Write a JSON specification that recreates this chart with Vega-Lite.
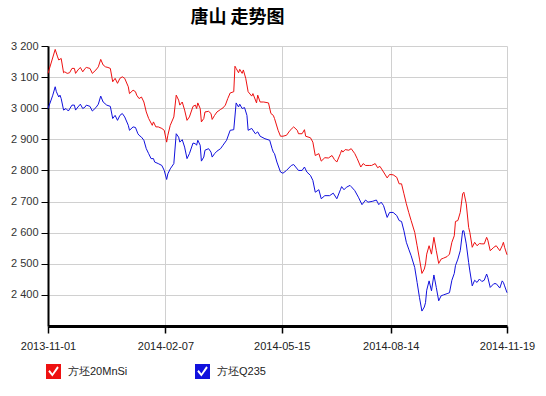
{
"$schema": "https://vega.github.io/schema/vega-lite/v6.json",
"width": 459, "height": 280,
"autosize": "none",
"padding": {"left": 48, "top": 46, "right": 39, "bottom": 70},
"background": "white",
"config": {"view": {"stroke": null}, "font": "Liberation Sans"},
"title": {"text": "唐山 走势图", "font": "Noto Sans CJK SC", "fontSize": 18, "fontWeight": "bold", "color": "#000000", "anchor": "middle", "dx": -40, "offset": 13},
"data": {"values": [
{"d":"2013-11-01","s":"方坯20MnSi","v":3112},{"d":"2013-11-07","s":"方坯20MnSi","v":3189},{"d":"2013-11-09","s":"方坯20MnSi","v":3165},{"d":"2013-11-10","s":"方坯20MnSi","v":3155},{"d":"2013-11-12","s":"方坯20MnSi","v":3160},{"d":"2013-11-14","s":"方坯20MnSi","v":3114},{"d":"2013-11-15","s":"方坯20MnSi","v":3117},{"d":"2013-11-17","s":"方坯20MnSi","v":3112},{"d":"2013-11-19","s":"方坯20MnSi","v":3114},{"d":"2013-11-21","s":"方坯20MnSi","v":3128},{"d":"2013-11-23","s":"方坯20MnSi","v":3128},{"d":"2013-11-24","s":"方坯20MnSi","v":3112},{"d":"2013-11-26","s":"方坯20MnSi","v":3123},{"d":"2013-11-28","s":"方坯20MnSi","v":3131},{"d":"2013-11-30","s":"方坯20MnSi","v":3117},{"d":"2013-12-02","s":"方坯20MnSi","v":3128},{"d":"2013-12-03","s":"方坯20MnSi","v":3131},{"d":"2013-12-06","s":"方坯20MnSi","v":3128},{"d":"2013-12-08","s":"方坯20MnSi","v":3112},{"d":"2013-12-11","s":"方坯20MnSi","v":3123},{"d":"2013-12-13","s":"方坯20MnSi","v":3133},{"d":"2013-12-15","s":"方坯20MnSi","v":3157},{"d":"2013-12-17","s":"方坯20MnSi","v":3139},{"d":"2013-12-19","s":"方坯20MnSi","v":3133},{"d":"2013-12-21","s":"方坯20MnSi","v":3131},{"d":"2013-12-23","s":"方坯20MnSi","v":3128},{"d":"2013-12-25","s":"方坯20MnSi","v":3085},{"d":"2013-12-27","s":"方坯20MnSi","v":3096},{"d":"2013-12-29","s":"方坯20MnSi","v":3080},{"d":"2013-12-31","s":"方坯20MnSi","v":3096},
{"d":"2014-01-02","s":"方坯20MnSi","v":3101},{"d":"2014-01-04","s":"方坯20MnSi","v":3096},{"d":"2014-01-07","s":"方坯20MnSi","v":3069},{"d":"2014-01-08","s":"方坯20MnSi","v":3047},{"d":"2014-01-11","s":"方坯20MnSi","v":3058},{"d":"2014-01-13","s":"方坯20MnSi","v":3053},{"d":"2014-01-14","s":"方坯20MnSi","v":3042},{"d":"2014-01-16","s":"方坯20MnSi","v":3031},{"d":"2014-01-18","s":"方坯20MnSi","v":3036},{"d":"2014-01-20","s":"方坯20MnSi","v":3020},{"d":"2014-01-22","s":"方坯20MnSi","v":2988},{"d":"2014-01-24","s":"方坯20MnSi","v":2967},{"d":"2014-01-27","s":"方坯20MnSi","v":2945},{"d":"2014-01-28","s":"方坯20MnSi","v":2956},{"d":"2014-01-30","s":"方坯20MnSi","v":2940},{"d":"2014-02-01","s":"方坯20MnSi","v":2940},{"d":"2014-02-04","s":"方坯20MnSi","v":2935},{"d":"2014-02-06","s":"方坯20MnSi","v":2929},{"d":"2014-02-08","s":"方坯20MnSi","v":2891},{"d":"2014-02-09","s":"方坯20MnSi","v":2913},{"d":"2014-02-11","s":"方坯20MnSi","v":2945},{"d":"2014-02-14","s":"方坯20MnSi","v":2972},{"d":"2014-02-16","s":"方坯20MnSi","v":3042},{"d":"2014-02-18","s":"方坯20MnSi","v":3026},{"d":"2014-02-19","s":"方坯20MnSi","v":3010},{"d":"2014-02-21","s":"方坯20MnSi","v":3020},{"d":"2014-02-23","s":"方坯20MnSi","v":2994},{"d":"2014-02-25","s":"方坯20MnSi","v":2961},{"d":"2014-02-27","s":"方坯20MnSi","v":2972},
{"d":"2014-03-02","s":"方坯20MnSi","v":3006},{"d":"2014-03-04","s":"方坯20MnSi","v":3010},{"d":"2014-03-05","s":"方坯20MnSi","v":2999},{"d":"2014-03-06","s":"方坯20MnSi","v":3017},{"d":"2014-03-08","s":"方坯20MnSi","v":2999},{"d":"2014-03-09","s":"方坯20MnSi","v":2956},{"d":"2014-03-11","s":"方坯20MnSi","v":2967},{"d":"2014-03-12","s":"方坯20MnSi","v":2988},{"d":"2014-03-15","s":"方坯20MnSi","v":2990},{"d":"2014-03-17","s":"方坯20MnSi","v":2983},{"d":"2014-03-18","s":"方坯20MnSi","v":2964},{"d":"2014-03-20","s":"方坯20MnSi","v":2977},{"d":"2014-03-22","s":"方坯20MnSi","v":2988},{"d":"2014-03-25","s":"方坯20MnSi","v":2996},{"d":"2014-03-27","s":"方坯20MnSi","v":3001},{"d":"2014-03-29","s":"方坯20MnSi","v":3010},{"d":"2014-03-31","s":"方坯20MnSi","v":3031},{"d":"2014-04-02","s":"方坯20MnSi","v":3049},{"d":"2014-04-05","s":"方坯20MnSi","v":3053},{"d":"2014-04-06","s":"方坯20MnSi","v":3135},{"d":"2014-04-07","s":"方坯20MnSi","v":3128},{"d":"2014-04-09","s":"方坯20MnSi","v":3114},{"d":"2014-04-10","s":"方坯20MnSi","v":3125},{"d":"2014-04-12","s":"方坯20MnSi","v":3112},{"d":"2014-04-13","s":"方坯20MnSi","v":3123},{"d":"2014-04-15","s":"方坯20MnSi","v":3096},{"d":"2014-04-17","s":"方坯20MnSi","v":3053},{"d":"2014-04-20","s":"方坯20MnSi","v":3039},{"d":"2014-04-21","s":"方坯20MnSi","v":3047},{"d":"2014-04-24","s":"方坯20MnSi","v":3017},{"d":"2014-04-25","s":"方坯20MnSi","v":3042},{"d":"2014-04-27","s":"方坯20MnSi","v":3020},{"d":"2014-04-30","s":"方坯20MnSi","v":3020},
{"d":"2014-05-04","s":"方坯20MnSi","v":3017},{"d":"2014-05-06","s":"方坯20MnSi","v":2983},{"d":"2014-05-08","s":"方坯20MnSi","v":2977},{"d":"2014-05-09","s":"方坯20MnSi","v":2967},{"d":"2014-05-12","s":"方坯20MnSi","v":2929},{"d":"2014-05-14","s":"方坯20MnSi","v":2910},{"d":"2014-05-16","s":"方坯20MnSi","v":2910},{"d":"2014-05-19","s":"方坯20MnSi","v":2913},{"d":"2014-05-22","s":"方坯20MnSi","v":2929},{"d":"2014-05-25","s":"方坯20MnSi","v":2940},{"d":"2014-05-28","s":"方坯20MnSi","v":2929},{"d":"2014-05-29","s":"方坯20MnSi","v":2918},{"d":"2014-06-01","s":"方坯20MnSi","v":2918},{"d":"2014-06-03","s":"方坯20MnSi","v":2931},{"d":"2014-06-04","s":"方坯20MnSi","v":2910},{"d":"2014-06-08","s":"方坯20MnSi","v":2905},{"d":"2014-06-10","s":"方坯20MnSi","v":2891},{"d":"2014-06-12","s":"方坯20MnSi","v":2848},{"d":"2014-06-15","s":"方坯20MnSi","v":2854},{"d":"2014-06-17","s":"方坯20MnSi","v":2830},{"d":"2014-06-20","s":"方坯20MnSi","v":2841},{"d":"2014-06-23","s":"方坯20MnSi","v":2840},{"d":"2014-06-26","s":"方坯20MnSi","v":2848},{"d":"2014-06-28","s":"方坯20MnSi","v":2835},{"d":"2014-06-30","s":"方坯20MnSi","v":2827},
{"d":"2014-07-03","s":"方坯20MnSi","v":2854},{"d":"2014-07-04","s":"方坯20MnSi","v":2865},{"d":"2014-07-05","s":"方坯20MnSi","v":2859},{"d":"2014-07-07","s":"方坯20MnSi","v":2867},{"d":"2014-07-10","s":"方坯20MnSi","v":2865},{"d":"2014-07-12","s":"方坯20MnSi","v":2870},{"d":"2014-07-15","s":"方坯20MnSi","v":2854},{"d":"2014-07-17","s":"方坯20MnSi","v":2838},{"d":"2014-07-20","s":"方坯20MnSi","v":2811},{"d":"2014-07-22","s":"方坯20MnSi","v":2822},{"d":"2014-07-24","s":"方坯20MnSi","v":2816},{"d":"2014-07-27","s":"方坯20MnSi","v":2816},{"d":"2014-07-29","s":"方坯20MnSi","v":2816},{"d":"2014-08-01","s":"方坯20MnSi","v":2822},{"d":"2014-08-03","s":"方坯20MnSi","v":2809},{"d":"2014-08-05","s":"方坯20MnSi","v":2813},{"d":"2014-08-08","s":"方坯20MnSi","v":2795},{"d":"2014-08-11","s":"方坯20MnSi","v":2776},{"d":"2014-08-13","s":"方坯20MnSi","v":2787},{"d":"2014-08-16","s":"方坯20MnSi","v":2786},{"d":"2014-08-19","s":"方坯20MnSi","v":2778},{"d":"2014-08-21","s":"方坯20MnSi","v":2757},{"d":"2014-08-23","s":"方坯20MnSi","v":2757},{"d":"2014-08-25","s":"方坯20MnSi","v":2725},{"d":"2014-08-27","s":"方坯20MnSi","v":2693},{"d":"2014-08-29","s":"方坯20MnSi","v":2665},{"d":"2014-08-31","s":"方坯20MnSi","v":2639},
{"d":"2014-09-03","s":"方坯20MnSi","v":2601},{"d":"2014-09-05","s":"方坯20MnSi","v":2558},{"d":"2014-09-07","s":"方坯20MnSi","v":2515},{"d":"2014-09-09","s":"方坯20MnSi","v":2469},{"d":"2014-09-11","s":"方坯20MnSi","v":2483},{"d":"2014-09-12","s":"方坯20MnSi","v":2499},{"d":"2014-09-13","s":"方坯20MnSi","v":2531},{"d":"2014-09-15","s":"方坯20MnSi","v":2558},{"d":"2014-09-17","s":"方坯20MnSi","v":2531},{"d":"2014-09-19","s":"方坯20MnSi","v":2585},{"d":"2014-09-21","s":"方坯20MnSi","v":2542},{"d":"2014-09-23","s":"方坯20MnSi","v":2501},{"d":"2014-09-25","s":"方坯20MnSi","v":2515},{"d":"2014-09-27","s":"方坯20MnSi","v":2518},{"d":"2014-09-30","s":"方坯20MnSi","v":2523},{"d":"2014-10-02","s":"方坯20MnSi","v":2531},{"d":"2014-10-04","s":"方坯20MnSi","v":2569},{"d":"2014-10-06","s":"方坯20MnSi","v":2590},{"d":"2014-10-07","s":"方坯20MnSi","v":2636},{"d":"2014-10-09","s":"方坯20MnSi","v":2639},{"d":"2014-10-11","s":"方坯20MnSi","v":2665},{"d":"2014-10-13","s":"方坯20MnSi","v":2725},{"d":"2014-10-14","s":"方坯20MnSi","v":2730},{"d":"2014-10-16","s":"方坯20MnSi","v":2693},{"d":"2014-10-18","s":"方坯20MnSi","v":2617},{"d":"2014-10-19","s":"方坯20MnSi","v":2601},{"d":"2014-10-21","s":"方坯20MnSi","v":2553},{"d":"2014-10-23","s":"方坯20MnSi","v":2569},{"d":"2014-10-25","s":"方坯20MnSi","v":2558},{"d":"2014-10-27","s":"方坯20MnSi","v":2565},{"d":"2014-10-29","s":"方坯20MnSi","v":2564},{"d":"2014-10-31","s":"方坯20MnSi","v":2564},{"d":"2014-11-02","s":"方坯20MnSi","v":2585},{"d":"2014-11-03","s":"方坯20MnSi","v":2576},{"d":"2014-11-05","s":"方坯20MnSi","v":2542},{"d":"2014-11-08","s":"方坯20MnSi","v":2553},{"d":"2014-11-10","s":"方坯20MnSi","v":2558},{"d":"2014-11-13","s":"方坯20MnSi","v":2542},{"d":"2014-11-15","s":"方坯20MnSi","v":2558},{"d":"2014-11-16","s":"方坯20MnSi","v":2569},{"d":"2014-11-17","s":"方坯20MnSi","v":2553},{"d":"2014-11-19","s":"方坯20MnSi","v":2529},
{"d":"2013-11-01","s":"方坯Q235","v":2999},{"d":"2013-11-03","s":"方坯Q235","v":3020},{"d":"2013-11-05","s":"方坯Q235","v":3042},{"d":"2013-11-07","s":"方坯Q235","v":3069},{"d":"2013-11-08","s":"方坯Q235","v":3053},{"d":"2013-11-10","s":"方坯Q235","v":3036},{"d":"2013-11-11","s":"方坯Q235","v":3042},{"d":"2013-11-12","s":"方坯Q235","v":3031},{"d":"2013-11-14","s":"方坯Q235","v":2994},{"d":"2013-11-16","s":"方坯Q235","v":2999},{"d":"2013-11-18","s":"方坯Q235","v":2991},{"d":"2013-11-21","s":"方坯Q235","v":3010},{"d":"2013-11-23","s":"方坯Q235","v":3010},{"d":"2013-11-24","s":"方坯Q235","v":2994},{"d":"2013-11-26","s":"方坯Q235","v":3004},{"d":"2013-11-28","s":"方坯Q235","v":3013},{"d":"2013-11-30","s":"方坯Q235","v":2999},{"d":"2013-12-02","s":"方坯Q235","v":3004},{"d":"2013-12-03","s":"方坯Q235","v":3010},{"d":"2013-12-06","s":"方坯Q235","v":3006},{"d":"2013-12-08","s":"方坯Q235","v":2991},{"d":"2013-12-11","s":"方坯Q235","v":3002},{"d":"2013-12-13","s":"方坯Q235","v":3013},{"d":"2013-12-15","s":"方坯Q235","v":3039},{"d":"2013-12-17","s":"方坯Q235","v":3020},{"d":"2013-12-20","s":"方坯Q235","v":3010},{"d":"2013-12-23","s":"方坯Q235","v":3006},{"d":"2013-12-25","s":"方坯Q235","v":2967},{"d":"2013-12-27","s":"方坯Q235","v":2977},{"d":"2013-12-29","s":"方坯Q235","v":2961},{"d":"2013-12-31","s":"方坯Q235","v":2977},
{"d":"2014-01-02","s":"方坯Q235","v":2983},{"d":"2014-01-04","s":"方坯Q235","v":2972},{"d":"2014-01-07","s":"方坯Q235","v":2945},{"d":"2014-01-08","s":"方坯Q235","v":2929},{"d":"2014-01-11","s":"方坯Q235","v":2940},{"d":"2014-01-13","s":"方坯Q235","v":2938},{"d":"2014-01-15","s":"方坯Q235","v":2918},{"d":"2014-01-16","s":"方坯Q235","v":2913},{"d":"2014-01-18","s":"方坯Q235","v":2907},{"d":"2014-01-20","s":"方坯Q235","v":2897},{"d":"2014-01-22","s":"方坯Q235","v":2870},{"d":"2014-01-24","s":"方坯Q235","v":2854},{"d":"2014-01-26","s":"方坯Q235","v":2838},{"d":"2014-01-28","s":"方坯Q235","v":2838},{"d":"2014-01-29","s":"方坯Q235","v":2827},{"d":"2014-02-01","s":"方坯Q235","v":2822},{"d":"2014-02-04","s":"方坯Q235","v":2816},{"d":"2014-02-06","s":"方坯Q235","v":2800},{"d":"2014-02-08","s":"方坯Q235","v":2771},{"d":"2014-02-09","s":"方坯Q235","v":2789},{"d":"2014-02-11","s":"方坯Q235","v":2805},{"d":"2014-02-14","s":"方坯Q235","v":2822},{"d":"2014-02-16","s":"方坯Q235","v":2918},{"d":"2014-02-18","s":"方坯Q235","v":2907},{"d":"2014-02-19","s":"方坯Q235","v":2891},{"d":"2014-02-21","s":"方坯Q235","v":2899},{"d":"2014-02-23","s":"方坯Q235","v":2875},{"d":"2014-02-25","s":"方坯Q235","v":2838},{"d":"2014-02-27","s":"方坯Q235","v":2854},
{"d":"2014-03-02","s":"方坯Q235","v":2888},{"d":"2014-03-04","s":"方坯Q235","v":2886},{"d":"2014-03-05","s":"方坯Q235","v":2881},{"d":"2014-03-06","s":"方坯Q235","v":2897},{"d":"2014-03-08","s":"方坯Q235","v":2881},{"d":"2014-03-09","s":"方坯Q235","v":2830},{"d":"2014-03-11","s":"方坯Q235","v":2843},{"d":"2014-03-12","s":"方坯Q235","v":2865},{"d":"2014-03-15","s":"方坯Q235","v":2870},{"d":"2014-03-17","s":"方坯Q235","v":2859},{"d":"2014-03-18","s":"方坯Q235","v":2843},{"d":"2014-03-20","s":"方坯Q235","v":2854},{"d":"2014-03-22","s":"方坯Q235","v":2862},{"d":"2014-03-25","s":"方坯Q235","v":2870},{"d":"2014-03-27","s":"方坯Q235","v":2881},{"d":"2014-03-30","s":"方坯Q235","v":2897},{"d":"2014-04-02","s":"方坯Q235","v":2929},{"d":"2014-04-05","s":"方坯Q235","v":2931},{"d":"2014-04-07","s":"方坯Q235","v":3017},{"d":"2014-04-09","s":"方坯Q235","v":3004},{"d":"2014-04-10","s":"方坯Q235","v":3013},{"d":"2014-04-12","s":"方坯Q235","v":2999},{"d":"2014-04-14","s":"方坯Q235","v":3002},{"d":"2014-04-16","s":"方坯Q235","v":2977},{"d":"2014-04-17","s":"方坯Q235","v":2929},{"d":"2014-04-20","s":"方坯Q235","v":2935},{"d":"2014-04-23","s":"方坯Q235","v":2918},{"d":"2014-04-25","s":"方坯Q235","v":2924},{"d":"2014-04-27","s":"方坯Q235","v":2910},
{"d":"2014-05-01","s":"方坯Q235","v":2902},{"d":"2014-05-05","s":"方坯Q235","v":2897},{"d":"2014-05-07","s":"方坯Q235","v":2870},{"d":"2014-05-08","s":"方坯Q235","v":2859},{"d":"2014-05-09","s":"方坯Q235","v":2854},{"d":"2014-05-11","s":"方坯Q235","v":2827},{"d":"2014-05-14","s":"方坯Q235","v":2795},{"d":"2014-05-16","s":"方坯Q235","v":2791},{"d":"2014-05-19","s":"方坯Q235","v":2800},{"d":"2014-05-23","s":"方坯Q235","v":2816},{"d":"2014-05-25","s":"方坯Q235","v":2819},{"d":"2014-05-29","s":"方坯Q235","v":2800},{"d":"2014-06-01","s":"方坯Q235","v":2800},{"d":"2014-06-03","s":"方坯Q235","v":2811},{"d":"2014-06-05","s":"方坯Q235","v":2795},{"d":"2014-06-08","s":"方坯Q235","v":2784},{"d":"2014-06-10","s":"方坯Q235","v":2768},{"d":"2014-06-12","s":"方坯Q235","v":2730},{"d":"2014-06-15","s":"方坯Q235","v":2738},{"d":"2014-06-17","s":"方坯Q235","v":2709},{"d":"2014-06-20","s":"方坯Q235","v":2719},{"d":"2014-06-24","s":"方坯Q235","v":2719},{"d":"2014-06-27","s":"方坯Q235","v":2727},{"d":"2014-06-30","s":"方坯Q235","v":2709},
{"d":"2014-07-03","s":"方坯Q235","v":2738},{"d":"2014-07-04","s":"方坯Q235","v":2748},{"d":"2014-07-06","s":"方坯Q235","v":2738},{"d":"2014-07-08","s":"方坯Q235","v":2746},{"d":"2014-07-11","s":"方坯Q235","v":2752},{"d":"2014-07-12","s":"方坯Q235","v":2748},{"d":"2014-07-15","s":"方坯Q235","v":2735},{"d":"2014-07-18","s":"方坯Q235","v":2714},{"d":"2014-07-21","s":"方坯Q235","v":2690},{"d":"2014-07-24","s":"方坯Q235","v":2705},{"d":"2014-07-26","s":"方坯Q235","v":2698},{"d":"2014-07-30","s":"方坯Q235","v":2701},{"d":"2014-08-02","s":"方坯Q235","v":2705},{"d":"2014-08-04","s":"方坯Q235","v":2690},{"d":"2014-08-06","s":"方坯Q235","v":2698},{"d":"2014-08-08","s":"方坯Q235","v":2687},{"d":"2014-08-11","s":"方坯Q235","v":2649},{"d":"2014-08-13","s":"方坯Q235","v":2665},{"d":"2014-08-16","s":"方坯Q235","v":2665},{"d":"2014-08-19","s":"方坯Q235","v":2655},{"d":"2014-08-21","s":"方坯Q235","v":2639},{"d":"2014-08-23","s":"方坯Q235","v":2636},{"d":"2014-08-25","s":"方坯Q235","v":2606},{"d":"2014-08-27","s":"方坯Q235","v":2569},{"d":"2014-08-29","s":"方坯Q235","v":2547},{"d":"2014-08-31","s":"方坯Q235","v":2526},
{"d":"2014-09-03","s":"方坯Q235","v":2488},{"d":"2014-09-05","s":"方坯Q235","v":2440},{"d":"2014-09-07","s":"方坯Q235","v":2391},{"d":"2014-09-09","s":"方坯Q235","v":2348},{"d":"2014-09-11","s":"方坯Q235","v":2361},{"d":"2014-09-12","s":"方坯Q235","v":2375},{"d":"2014-09-13","s":"方坯Q235","v":2415},{"d":"2014-09-15","s":"方坯Q235","v":2445},{"d":"2014-09-17","s":"方坯Q235","v":2413},{"d":"2014-09-19","s":"方坯Q235","v":2464},{"d":"2014-09-21","s":"方坯Q235","v":2424},{"d":"2014-09-23","s":"方坯Q235","v":2381},{"d":"2014-09-25","s":"方坯Q235","v":2397},{"d":"2014-09-27","s":"方坯Q235","v":2400},{"d":"2014-09-30","s":"方坯Q235","v":2404},{"d":"2014-10-02","s":"方坯Q235","v":2407},{"d":"2014-10-04","s":"方坯Q235","v":2447},{"d":"2014-10-06","s":"方坯Q235","v":2469},{"d":"2014-10-07","s":"方坯Q235","v":2494},{"d":"2014-10-09","s":"方坯Q235","v":2515},{"d":"2014-10-11","s":"方坯Q235","v":2542},{"d":"2014-10-13","s":"方坯Q235","v":2606},{"d":"2014-10-14","s":"方坯Q235","v":2606},{"d":"2014-10-16","s":"方坯Q235","v":2564},{"d":"2014-10-18","s":"方坯Q235","v":2504},{"d":"2014-10-19","s":"方坯Q235","v":2477},{"d":"2014-10-21","s":"方坯Q235","v":2429},{"d":"2014-10-23","s":"方坯Q235","v":2447},{"d":"2014-10-25","s":"方坯Q235","v":2440},{"d":"2014-10-27","s":"方坯Q235","v":2451},{"d":"2014-10-29","s":"方坯Q235","v":2443},{"d":"2014-10-31","s":"方坯Q235","v":2447},{"d":"2014-11-02","s":"方坯Q235","v":2467},{"d":"2014-11-03","s":"方坯Q235","v":2456},{"d":"2014-11-05","s":"方坯Q235","v":2424},{"d":"2014-11-08","s":"方坯Q235","v":2436},{"d":"2014-11-10","s":"方坯Q235","v":2436},{"d":"2014-11-13","s":"方坯Q235","v":2422},{"d":"2014-11-15","s":"方坯Q235","v":2445},{"d":"2014-11-16","s":"方坯Q235","v":2440},{"d":"2014-11-17","s":"方坯Q235","v":2429},{"d":"2014-11-19","s":"方坯Q235","v":2407}
]},
"mark": {"type": "line", "strokeWidth": 1, "interpolate": "linear"},
"encoding": {
"x": {"field": "d", "type": "temporal",
"scale": {"type": "utc", "domain": [{"year": 2013, "month": 11, "date": 1, "utc": true}, {"year": 2014, "month": 11, "date": 19, "utc": true}]},
"axis": {"title": null, "values": [{"year": 2013, "month": 11, "date": 1, "utc": true}, {"year": 2014, "month": 2, "date": 7, "utc": true}, {"year": 2014, "month": 5, "date": 15, "utc": true}, {"year": 2014, "month": 8, "date": 14, "utc": true}, {"year": 2014, "month": 11, "date": 19, "utc": true}],
"format": "%Y-%m-%d", "labelFont": "Liberation Sans", "labelFontSize": 11, "labelColor": "#222222", "labelOverlap": false, "labelFlush": false, "labelPadding": 7,
"domainColor": "#000000", "domainWidth": 3, "tickColor": "#000000", "tickSize": 7, "tickWidth": 1.5, "gridColor": "#d0d0d0", "gridWidth": 1}},
"y": {"field": "v", "type": "quantitative",
"scale": {"domain": [2300, 3200], "nice": false, "zero": false},
"axis": {"title": null, "values": [2400, 2500, 2600, 2700, 2800, 2900, 3000, 3100, 3200],
"labelExpr": "replace(format(datum.value, ','), ',', ' ')", "labelFont": "Liberation Sans", "labelFontSize": 11, "labelColor": "#333333", "labelPadding": 3,
"domainColor": "#000000", "domainWidth": 2, "tickColor": "#000000", "tickSize": 7, "tickWidth": 1, "gridColor": "#d0d0d0", "gridWidth": 1}},
"color": {"field": "s", "type": "nominal",
"scale": {"domain": ["方坯20MnSi", "方坯Q235"], "range": ["#ee1111", "#1111dd"]},
"legend": {"title": null, "orient": "none", "legendX": -2, "legendY": 318, "direction": "horizontal",
"symbolType": "M-1,-1H1V1H-1Z M-0.7,0 L-0.15,0.65 L0.7,-0.5 L0.5,-0.7 L-0.15,0.25 L-0.5,-0.2 Z",
"symbolSize": 225, "symbolStrokeWidth": 0, "labelFont": "Liberation Sans", "labelFontSize": 11, "labelColor": "#222222", "labelOffset": 7, "columnPadding": 67,
"encode": {"symbols": {"update": {"fill": {"scale": "color", "field": "value"}, "stroke": {"value": "transparent"}, "opacity": {"value": 1}}}}}}
}
}
